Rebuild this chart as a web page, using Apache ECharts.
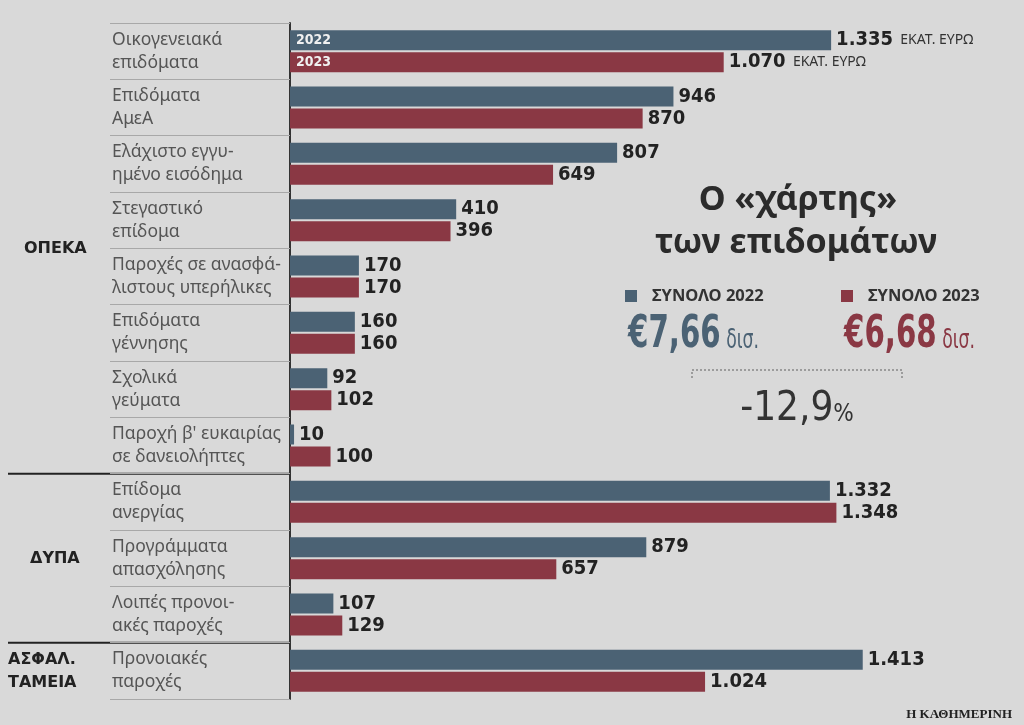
<!DOCTYPE html>
<html>
<head>
<meta charset="utf-8">
<script src="https://cdn.jsdelivr.net/npm/echarts@6/dist/echarts.min.js"></script>
<style>
html,body{margin:0;padding:0;background:#d9d9d9;}
#main{width:1024px;height:725px;}
</style>
</head>
<body>
<div id="main"></div>
<script>
// κατηγορίες (δύο γραμμές η καθεμία)
var categories = [
	'Οικογενειακά\nεπιδόματα',
	'Επιδόματα\nΑμεΑ',
	'Ελάχιστο εγγυ-\nημένο εισόδημα',
	'Στεγαστικό\nεπίδομα',
	'Παροχές σε ανασφά-\nλιστους υπερήλικες',
	'Επιδόματα\nγέννησης',
	'Σχολικά\nγεύματα',
	'Παροχή β\' ευκαιρίας\nσε δανειολήπτες',
	'Επίδομα\nανεργίας',
	'Προγράμματα\nαπασχόλησης',
	'Λοιπές προνοι-\nακές παροχές',
	'Προνοιακές\nπαροχές'
];
var values2022 = [1335, 946, 807, 410, 170, 160, 92, 10, 1332, 879, 107, 1413];
var values2023 = [1070, 870, 649, 396, 170, 160, 102, 100, 1348, 657, 129, 1024];
var seriesNames = ['2022', '2023'];
// ομάδες: [ετικέτα, πρώτη κατηγορία, τελευταία κατηγορία]
var groupNames = ['ΟΠΕΚΑ', 'ΔΥΠΑ', 'ΑΣΦΑΛ.\nΤΑΜΕΙΑ'];
var groupFirst = [0, 8, 11];
var groupLast = [7, 10, 11];
var totals = ['€7,66', '€6,68'];
var change = '-12,9';

var blue = '#4b6274';
var red = '#8a3844';
var numFont = "'Liberation Sans Narrow','DejaVu Sans Condensed',sans-serif";

function fmt(v) {
	if (v >= 1000) {
		return Math.floor(v / 1000) + '.' + String(v % 1000).padStart(3, '0');
	}
	return String(v);
}

function valueLabel() {
	return {
		show: true,
		position: 'right',
		distance: 5,
		formatter: function (p) {
			if (p.dataIndex === 0) return '{v|' + fmt(p.value) + '}{u|  ΕΚΑΤ. ΕΥΡΩ}';
			return '{v|' + fmt(p.value) + '}';
		},
		rich: {
			v: {fontFamily: numFont, fontWeight: 'bold', fontSize: 20, color: '#222'},
			u: {fontFamily: 'Noto Sans', fontSize: 14, color: '#333'}
		}
	};
}

var chart = echarts.init(document.getElementById('main'));

var option = {
	backgroundColor: '#d9d9d9',
	animation: false,
	grid: {left: 290, right: 126, top: 23, bottom: 26},
	xAxis: {
		type: 'value',
		min: 0,
		max: 1500,
		show: false
	},
	yAxis: {
		type: 'category',
		inverse: true,
		data: categories,
		axisLine: {show: true, lineStyle: {color: '#333', width: 2}},
		axisTick: {show: true, length: 180, lineStyle: {color: '#a8a8a8', width: 1}},
		axisLabel: {
			align: 'left',
			margin: 178,
			fontFamily: 'Noto Sans',
			fontSize: 17.5,
			lineHeight: 23,
			color: '#555'
		}
	},
	series: [
		{
			name: seriesNames[0],
			type: 'bar',
			data: values2022,
			barWidth: 20,
			barGap: '10%',
			itemStyle: {color: blue},
			label: valueLabel()
		},
		{
			name: seriesNames[1],
			type: 'bar',
			data: values2023,
			barWidth: 20,
			barGap: '10%',
			itemStyle: {color: red},
			label: valueLabel()
		}
	]
};
chart.setOption(option);

// στοιχεία γύρω από το γράφημα
var g = [];
var half = (chart.convertToPixel({yAxisIndex: 0}, 1) - chart.convertToPixel({yAxisIndex: 0}, 0)) / 2;

// ετικέτες ομάδων
for (var i = 0; i < groupNames.length; i++) {
	var yc = (chart.convertToPixel({yAxisIndex: 0}, groupFirst[i]) + chart.convertToPixel({yAxisIndex: 0}, groupLast[i])) / 2;
	g.push({
		type: 'text', left: i === 2 ? 8 : (i === 0 ? 24 : 30), top: yc - (i === 2 ? 22 : 11),
		style: {text: groupNames[i], font: 'bold 16px "DejaVu Sans"', fill: '#222', lineHeight: 23}
	});
	if (i > 0) {
		var yb = chart.convertToPixel({yAxisIndex: 0}, groupFirst[i]) - half;
		g.push({
			type: 'line',
			shape: {x1: 8, y1: yb, x2: 289, y2: yb},
			style: {stroke: '#222', lineWidth: 2}
		});
	}
}

// 2022 / 2023 μέσα στις πρώτες μπάρες
for (var s = 0; s < 2; s++) {
	var lay = chart.getModel().getSeriesByIndex(s).getData().getItemLayout(0);
	g.push({
		type: 'text', z: 20, x: lay.x + 6, y: lay.y + lay.height / 2,
		style: {text: seriesNames[s], font: 'bold 14px ' + numFont, fill: '#f0f0f0', verticalAlign: 'middle'}
	});
}

// τίτλος
g.push({type: 'text', x: 798, y: 200, style: {text: 'Ο «χάρτης»', font: 'bold 34px "Noto Sans"', fill: '#2b2b2b', align: 'center', verticalAlign: 'middle'}});
g.push({type: 'text', x: 796, y: 243, style: {text: 'των επιδομάτων', font: 'bold 34px "Noto Sans"', fill: '#2b2b2b', align: 'center', verticalAlign: 'middle'}});

// σύνολα
var legX = [625, 841];
var cols = [blue, red];
for (var k = 0; k < 2; k++) {
	g.push({type: 'rect', shape: {x: legX[k], y: 290, width: 12, height: 12}, style: {fill: cols[k]}});
	g.push({type: 'text', x: legX[k] + 27, y: 296, style: {text: 'ΣΥΝΟΛΟ ' + seriesNames[k], font: 'bold 16.5px "Noto Sans"', fill: '#333', verticalAlign: 'middle'}});
	g.push({
		type: 'text', x: legX[k] + 3, y: 336, scaleX: 0.74, originX: 0,
		style: {
			text: '{a|' + totals[k] + '}{b| δισ.}',
			verticalAlign: 'middle',
			rich: {
				a: {fontFamily: numFont, fontWeight: 'bold', fontSize: 44, fill: cols[k], verticalAlign: 'bottom'},
				b: {fontFamily: numFont, fontSize: 26, fill: cols[k], verticalAlign: 'bottom', padding: [0, 0, 4, 0]}
			}
		}
	});
}

// διακεκομμένη αγκύλη
g.push({
	type: 'polyline',
	shape: {points: [[692, 378], [692, 370], [902, 370], [902, 378]]},
	style: {stroke: '#888', lineWidth: 1.5, lineDash: [2, 2], fill: null}
});
g.push({
	type: 'text', x: 797, y: 410,
	style: {
		text: '{a|' + change + '}{b|%}',
		align: 'center', verticalAlign: 'middle',
		rich: {
			a: {fontFamily: numFont, fontSize: 40, fill: '#333', verticalAlign: 'bottom'},
			b: {fontFamily: numFont, fontSize: 24, fill: '#333', verticalAlign: 'bottom', padding: [0, 0, 3, 0]}
		}
	}
});

// πηγή
g.push({type: 'text', x: 1012, y: 715, style: {text: 'Η ΚΑΘΗΜΕΡΙΝΗ', font: 'bold 13px "Liberation Serif"', fill: '#222', align: 'right', verticalAlign: 'middle'}});

chart.setOption({graphic: g});
</script>
</body>
</html>
